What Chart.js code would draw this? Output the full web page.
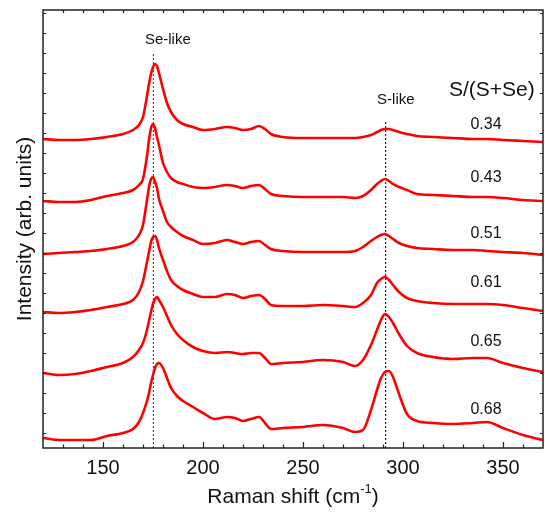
<!DOCTYPE html>
<html>
<head>
<meta charset="utf-8">
<script src="https://cdn.jsdelivr.net/npm/chart.js@4.4.0/dist/chart.umd.min.js"></script>
<style>html,body{margin:0;padding:0;background:#fff}</style>
</head>
<body>
<canvas id="c" width="545" height="515"></canvas>
<script>
// Raman shift grid (cm-1) shared by all spectra
const ramanShift = [120,128,136,144,152,160,165,168,170,172,173,174,175,176,177,178,180,182,184,187,190,195,200,206,212,216,220,224,228,231,234,240,250,260,270,276,280,284,287,289,291,293,295,298,302,307,315,325,335,342,350,360,370];

// Offset intensities (arb. units), one spectrum per S/(S+Se) ratio
const ratio034 = [294,293,293,294,296,299,303,308,316,337,349,359,366,369,367,360,344,330,321,313,309,306,303,304,306,305,303,304,307,304,299,296,295,295,295,295,296,298,301,303,304,304,303,301,299,297,296,295,294,294,293,292,291];
const ratio043 = [232,231,231,233,237,240,243,248,254,277,293,305,309,305,296,288,270,261,255,251,249,246,245,246,248,247,245,247,248,244,239,237,236,236,236,235,237,243,249,252,254,252,249,246,243,239,238,237,236,236,235,233,232];
const ratio051 = [179,180,181,182,184,187,191,198,208,233,246,254,256,251,245,234,222,211,206,201,197,193,189,190,193,191,189,191,192,188,184,182,181,181,181,182,186,192,196,198,199,197,194,190,187,185,184,183,183,182,181,180,178];
const ratio061 = [121,120,121,123,126,129,133,141,152,171,181,191,196,197,193,185,173,162,153,147,143,139,136,136,139,138,135,137,138,134,128,127,127,128,127,126,130,138,150,154,156,153,148,141,135,132,130,129,129,129,128,125,122];
const ratio065 = [60,58,59,62,66,70,76,83,90,103,112,121,129,134,136,133,126,117,108,99,93,86,82,80,81,80,79,80,80,75,69,70,71,73,71,67,73,88,103,113,119,116,110,99,87,80,76,74,75,75,70,65,61];
const ratio068 = [-5,-7,-7,-7,-3,0,4,11,20,32,40,50,58,65,69,70,65,55,45,37,32,26,20,14,16,15,12,14,16,10,4,5,6,8,5,1,3,23,43,55,61,62,56,39,19,12,10,9,10,11,5,-2,-7];

const spectra = [ratio034, ratio043, ratio051, ratio061, ratio065, ratio068];
const ratioLabels = ['0.34', '0.43', '0.51', '0.61', '0.65', '0.68'];
const ratioLabelLevel = [308, 255, 199, 150, 91, 23];

// Mode positions marked with dotted guides
const seLikeShift = 175.2;
const sLikeShift = 291.3;
const seGuideTop = 379;
const sGuideTop = 313;

const xMin = 120, xMax = 370, yMin = -15, yMax = 423;
const FONT = '"Liberation Sans", Arial, Helvetica, sans-serif';

const datasets = spectra.map(vals => ({
  data: ramanShift.map((x, i) => ({x, y: vals[i]})),
  borderColor: '#ff0000',
  borderWidth: 2.6,
  pointRadius: 0,
  cubicInterpolationMode: 'monotone',
  fill: false,
  order: 1
}));
datasets.push({
  data: [{x: seLikeShift, y: yMin}, {x: seLikeShift, y: seGuideTop}],
  borderColor: '#555', borderWidth: 1.2, borderDash: [2, 2], pointRadius: 0, order: 2
});
datasets.push({
  data: [{x: sLikeShift, y: yMin}, {x: sLikeShift, y: sGuideTop}],
  borderColor: '#222', borderWidth: 1.2, borderDash: [2, 2], pointRadius: 0, order: 2
});

const decor = {
  id: 'decor',
  afterDraw(chart) {
    const {ctx, chartArea: a, scales: {x, y}} = chart;
    ctx.save();
    // frame
    ctx.strokeStyle = '#222';
    ctx.lineWidth = 1.5;
    ctx.strokeRect(a.left, a.top, a.right - a.left, a.bottom - a.top);
    // inward ticks on the bottom and top axes
    ctx.lineWidth = 1.2;
    ctx.beginPath();
    for (let v = xMin + 10; v < xMax; v += 10) {
      const px = Math.round(x.getPixelForValue(v)) + 0.5;
      const len = v % 50 === 0 ? 6 : 3.5;
      ctx.moveTo(px, a.bottom); ctx.lineTo(px, a.bottom - len);
      ctx.moveTo(px, a.top); ctx.lineTo(px, a.top + 3);
    }
    // inward ticks on the left and right axes
    for (let v = 0; v < yMax; v += 20) {
      const py = Math.round(y.getPixelForValue(v)) + 0.5;
      ctx.moveTo(a.left, py); ctx.lineTo(a.left + 3, py);
      ctx.moveTo(a.right, py); ctx.lineTo(a.right - 3, py);
    }
    ctx.stroke();

    ctx.fillStyle = '#111';
    ctx.textBaseline = 'middle';
    // x-axis title with superscript exponent
    const cx = (a.left + a.right) / 2;
    const ty = a.bottom + 49;
    const p1 = 'Raman shift (cm', p2 = '-1', p3 = ')';
    ctx.font = '21px ' + FONT;
    const w1 = ctx.measureText(p1).width, w3 = ctx.measureText(p3).width;
    ctx.font = '13px ' + FONT;
    const w2 = ctx.measureText(p2).width;
    const sx = cx - (w1 + w2 + w3) / 2;
    ctx.textAlign = 'left';
    ctx.font = '21px ' + FONT;
    ctx.fillText(p1, sx, ty);
    ctx.font = '13px ' + FONT;
    ctx.fillText(p2, sx + w1, ty - 8);
    ctx.font = '21px ' + FONT;
    ctx.fillText(p3, sx + w1 + w2, ty);

    // y-axis title
    ctx.save();
    ctx.translate(25, (a.top + a.bottom) / 2);
    ctx.rotate(-Math.PI / 2);
    ctx.textAlign = 'center';
    ctx.fillText('Intensity (arb. units)', 0, 0);
    ctx.restore();

    // annotations
    ctx.textAlign = 'center';
    ctx.font = '15px ' + FONT;
    ctx.fillText('Se-like', x.getPixelForValue(182.4), y.getPixelForValue(393));
    ctx.fillText('S-like', x.getPixelForValue(296.4), y.getPixelForValue(333));
    ctx.font = '21px ' + FONT;
    ctx.fillText('S/(S+Se)', x.getPixelForValue(344.4), y.getPixelForValue(343));
    ctx.font = '16px ' + FONT;
    ratioLabels.forEach((t, i) => {
      ctx.fillText(t, x.getPixelForValue(341.5), y.getPixelForValue(ratioLabelLevel[i]));
    });
    ctx.restore();
  }
};

new Chart(document.getElementById('c'), {
  type: 'line',
  data: {datasets},
  options: {
    responsive: false,
    devicePixelRatio: 1,
    animation: false,
    layout: {padding: {left: 43, right: 2, top: 10, bottom: 0}},
    plugins: {legend: {display: false}, tooltip: {enabled: false}},
    scales: {
      x: {
        type: 'linear', min: xMin, max: xMax,
        grid: {display: false, drawTicks: false},
        border: {display: false},
        ticks: {
          stepSize: 10, autoSkip: false, maxRotation: 0, padding: 8,
          color: '#111', font: {family: FONT, size: 20},
          callback: v => (v % 50 === 0 && v > xMin && v < xMax) ? String(v) : ''
        },
        afterFit: s => { s.height = 67; s.paddingLeft = 0; s.paddingRight = 0; }
      },
      y: {display: false, min: yMin, max: yMax}
    }
  },
  plugins: [decor]
});
</script>
</body>
</html>
